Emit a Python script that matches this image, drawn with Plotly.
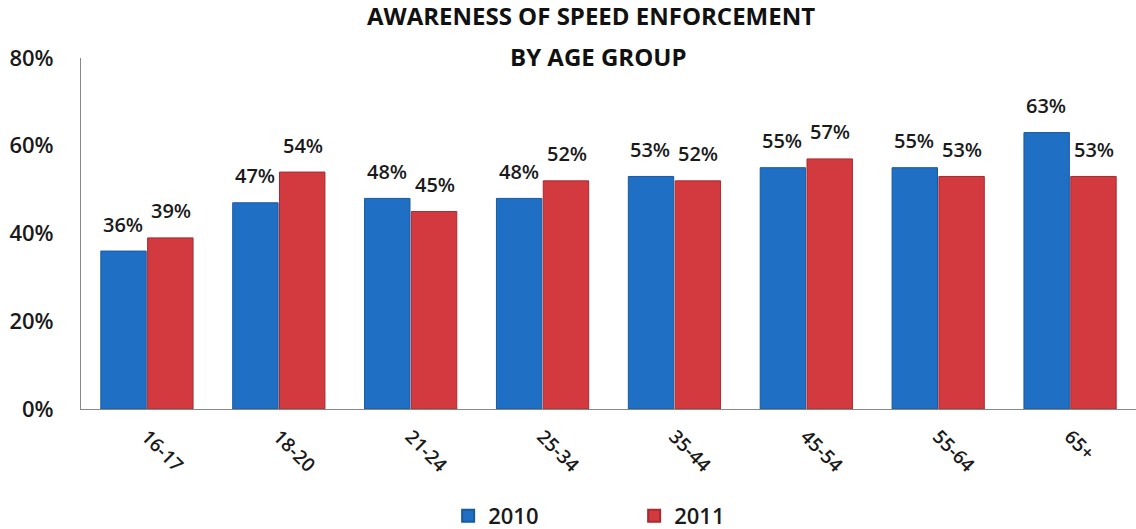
import plotly.graph_objects as go

categories = ["16-17", "18-20", "21-24", "25-34", "35-44", "45-54", "55-64", "65+"]
values_2010 = [36, 47, 48, 48, 53, 55, 55, 63]
values_2011 = [39, 54, 45, 52, 52, 57, 53, 53]
y_ticks = [0, 20, 40, 60, 80]
y_tick_labels = ["0%", "20%", "40%", "60%", "80%"]
title_line1 = "AWARENESS OF SPEED ENFORCEMENT"
title_line2 = "BY AGE GROUP"

font_family = "Open Sans, Lato, sans-serif"
text_color = "#1a1a1a"

fig = go.Figure()
fig.add_trace(go.Bar(
    x=categories, y=values_2010, name="2010",
    marker=dict(color="#1f6fc5", line=dict(color="#175a9e", width=1)),
))
fig.add_trace(go.Bar(
    x=categories, y=values_2011, name="2011",
    marker=dict(color="#d23a3f", line=dict(color="#a82a2e", width=1)),
))

# value labels above each bar
for series, shift in ((values_2010, -24), (values_2011, 24)):
    for cat, val in zip(categories, series):
        fig.add_annotation(
            x=cat, y=val, xref="x", yref="y", text=f"{val}%",
            showarrow=False, xshift=shift, yshift=27, yanchor="middle",
            font=dict(size=20, color=text_color, family=font_family, weight=600),
        )

# second title line
fig.add_annotation(
    x=0.4905, y=1.003, xref="paper", yref="paper",
    text=f"<b>{title_line2}</b>", showarrow=False, xanchor="center", yanchor="middle",
    font=dict(size=24, color="#111111", family=font_family),
)

fig.update_layout(
    width=1136, height=529,
    margin=dict(l=81, r=0, t=58, b=120, autoexpand=False),
    paper_bgcolor="white", plot_bgcolor="white",
    barmode="group", bargap=0.29, bargroupgap=0.03,
    title=dict(
        text=f"<b>{title_line1}</b>",
        x=591 / 1136, xref="container", xanchor="center",
        y=1 - 17 / 529, yref="container", yanchor="middle",
        font=dict(size=24, color="#111111", family=font_family),
    ),
    font=dict(family=font_family, color=text_color),
    legend=dict(
        orientation="h", x=0.348, xanchor="left", y=-0.245, yanchor="top",
        entrywidth=141, font=dict(size=22, color=text_color, weight=600),
        itemsizing="constant",
    ),
)
fig.update_yaxes(
    range=[0, 80], tickvals=y_ticks, ticktext=y_tick_labels, automargin=False,
    showgrid=False, zeroline=False, showline=True, linecolor="#888888", linewidth=1,
    tickfont=dict(size=22, color=text_color, weight=600), ticks="", ticklabelstandoff=22,
)
fig.update_xaxes(
    showgrid=False, showline=True, linecolor="#888888", linewidth=1, automargin=False,
    tickangle=45, tickfont=dict(size=19, color=text_color, weight=600), ticks="",
    ticklabelstandoff=8,
)

fig.write_html(
    "out.html",
    config={"displayModeBar": False},
    post_script="document.body.style.margin='0px';",
)
